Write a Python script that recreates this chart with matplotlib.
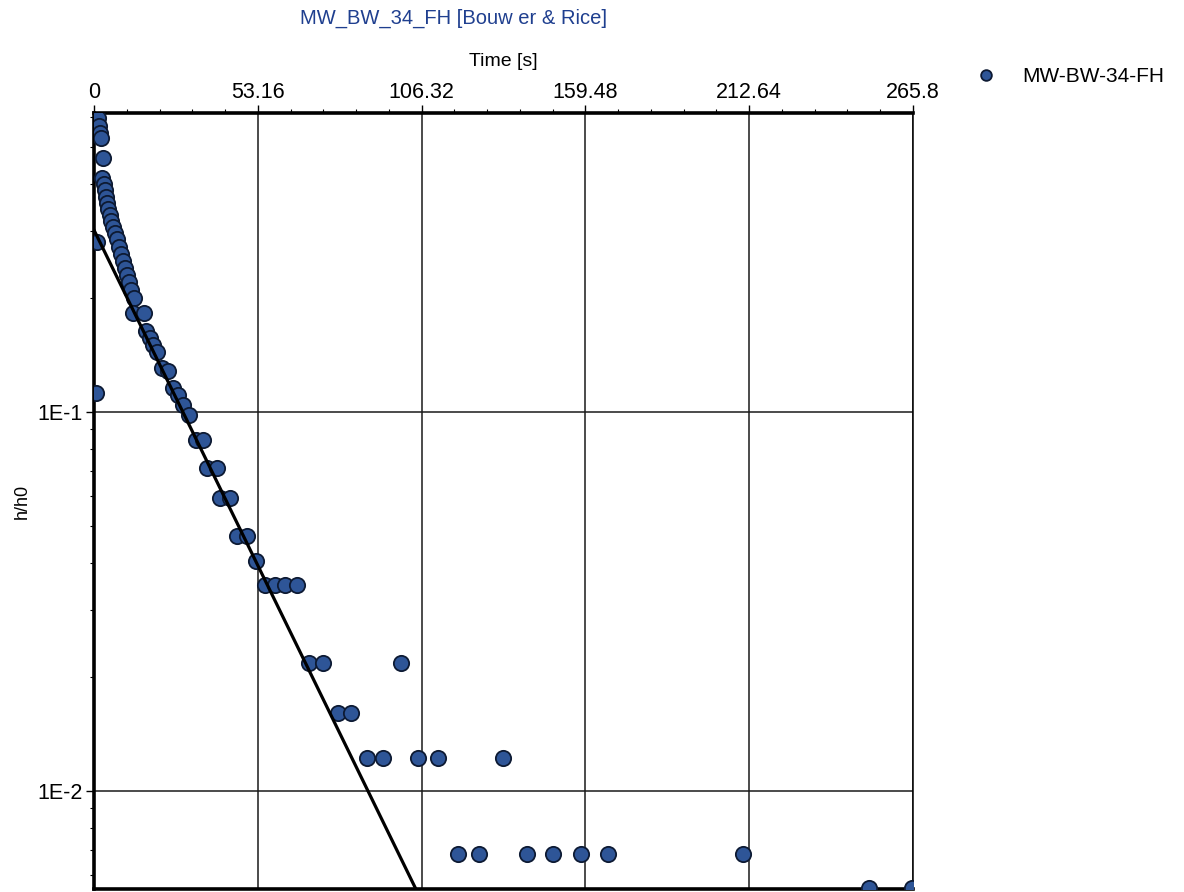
import matplotlib
matplotlib.use('Agg')
import matplotlib.pyplot as plt
from matplotlib.ticker import FixedLocator, MultipleLocator, LogLocator, FuncFormatter, NullFormatter

plt.rcParams['font.family'] = ['Liberation Sans', 'DejaVu Sans']

# observed recovery h/h0 vs time [s]
time_s = [1.3, 1.6, 1.9, 2.3, 2.9, 2.6, 3.2, 3.6, 3.9, 4.2, 4.5, 5.2, 5.5, 6.2, 6.8, 7.5,
          1.0, 8.1, 8.8, 9.4, 10.1, 10.7, 11.4, 12.0, 13.0, 12.7, 16.2, 16.9, 18.2, 19.1,
          20.4, 22.1, 24.0, 25.6, 27.3, 28.9, 30.8, 0.6, 33.1, 35.4, 36.7, 39.9, 40.9,
          44.1, 46.4, 49.7, 52.6, 55.5, 58.7, 62.0, 65.9, 69.8, 74.3, 99.6, 79.2, 83.4,
          88.6, 93.8, 105.2, 111.7, 132.7, 118.1, 125.0, 140.5, 149.0, 158.1, 166.8,
          210.6, 251.5, 265.5]
h_ratio = [0.597, 0.569, 0.544, 0.528, 0.468, 0.414, 0.400, 0.385, 0.369, 0.356, 0.343,
           0.331, 0.319, 0.308, 0.297, 0.286, 0.281, 0.272, 0.261, 0.250, 0.240, 0.230,
           0.220, 0.210, 0.200, 0.182, 0.182, 0.164, 0.157, 0.150, 0.144, 0.131, 0.128,
           0.116, 0.111, 0.104, 0.0982, 0.112, 0.0844, 0.0844, 0.0711, 0.0711, 0.0593,
           0.0593, 0.0471, 0.0471, 0.0404, 0.0350, 0.0350, 0.0350, 0.0350, 0.0218, 0.0218,
           0.0218, 0.0161, 0.0161, 0.01222, 0.01222, 0.01222, 0.01222, 0.01222, 0.00682,
           0.00682, 0.00682, 0.00682, 0.00682, 0.00682, 0.00682, 0.00555, 0.00555]

# Bouwer & Rice straight-line fit (end points)
fit_t = [0.0, 104.5]
fit_h = [0.302, 0.0055]

x_ticks = [0, 53.16, 106.32, 159.48, 212.64, 265.8]
x_labels = ['0', '53.16', '106.32', '159.48', '212.64', '265.8']
y_lim = (0.00551, 0.615)

fig = plt.figure(figsize=(11.84, 8.92), dpi=100)
ax = fig.add_axes([94 / 1184, 1 - 889 / 892, 819 / 1184, 776 / 892])

ax.plot(time_s, h_ratio, 'o', ms=11, mfc='#2E5597', mec='#0D1A33', mew=1.3,
        label='MW-BW-34-FH', zorder=3)
ax.plot(fit_t, fit_h, '-', color='black', lw=2.3, zorder=4)

ax.set_yscale('log')
ax.set_xlim(0, 265.8)
ax.set_ylim(*y_lim)

# x axis on top
ax.xaxis.tick_top()
ax.xaxis.set_label_position('top')
ax.xaxis.set_major_locator(FixedLocator(x_ticks))
ax.set_xticklabels(x_labels)
ax.xaxis.set_minor_locator(MultipleLocator(53.16 / 5))
ax.set_xlabel('Time [s]', fontsize=14, labelpad=12)

ax.yaxis.set_major_locator(FixedLocator([0.1, 0.01]))
ax.yaxis.set_major_formatter(FuncFormatter(lambda v, p: '1E-1' if v > 0.05 else '1E-2'))
ax.yaxis.set_minor_locator(LogLocator(base=10, subs=range(2, 10)))
ax.yaxis.set_minor_formatter(NullFormatter())
ax.set_ylabel('h/h0', fontsize=13, labelpad=5)

ax.tick_params(which='major', direction='out', length=6, width=1.0, labelsize=15.5, colors='black')
ax.tick_params(which='minor', direction='out', length=3, width=0.8)
ax.tick_params(axis='x', which='both', top=True, bottom=False, pad=1)
ax.tick_params(axis='y', which='major', pad=2)

ax.grid(True, which='major', color='#1a1a1a', lw=1.1)

for side in ['top', 'left', 'bottom']:
    ax.spines[side].set_linewidth(2.6)
ax.spines['right'].set_linewidth(1.1)

fig.text(453 / 1184, 1 - 18 / 892, 'MW_BW_34_FH [Bouw er & Rice]', color='#1F3F8F',
         fontsize=14.5, ha='center', va='center')

leg = fig.legend(loc='center left', bbox_to_anchor=(953 / 1184, 1 - 77 / 892), frameon=False,
                 fontsize=15, markerscale=0.7, handletextpad=1.0, handlelength=1.4)

fig.savefig('out.png', dpi=100)
